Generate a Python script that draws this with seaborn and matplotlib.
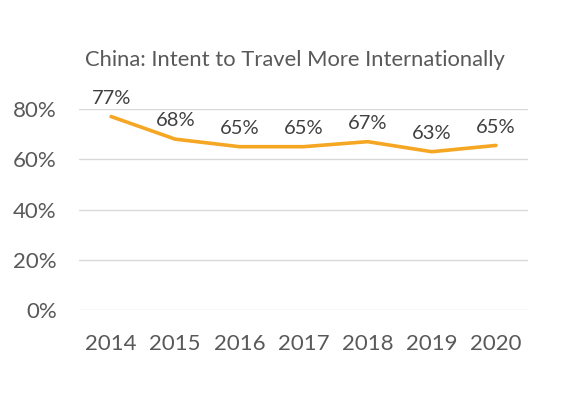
import numpy as np
import pandas as pd
import matplotlib
matplotlib.use("Agg")
import matplotlib.pyplot as plt
import seaborn as sns

years = ["2014", "2015", "2016", "2017", "2018", "2019", "2020"]
intent = [77, 68, 65, 65, 67, 63, 65.5]
labels = ["77%", "68%", "65%", "65%", "67%", "63%", "65%"]

df = pd.DataFrame({"Year": years, "Intent": intent})

sns.set_theme(style="white")
plt.rcParams["font.family"] = ["Lato", "DejaVu Sans"]

fig = plt.figure(figsize=(5.73, 3.96), dpi=100)
ax = fig.add_axes([79 / 573, 1 - 310 / 396, 449 / 573, 201 / 396])

x = np.arange(len(years))
sns.lineplot(x=x, y=df["Intent"], ax=ax, color="#F5A623", linewidth=2.6)

for xi, yi, lab in zip(x, df["Intent"], labels):
    ax.annotate(lab, (xi, yi), xytext=(0, 7), textcoords="offset points",
                ha="center", va="bottom", fontsize=14.5, color="#404040")

ax.set_xlim(-0.5, len(years) - 0.5)
ax.set_ylim(0, 80)
ax.set_yticks([0, 20, 40, 60, 80])
ax.set_yticklabels(["0%", "20%", "40%", "60%", "80%"])
ax.set_xticks(x)
ax.set_xticklabels(years)
ax.tick_params(axis="both", labelsize=16, colors="#595959", length=0)
ax.tick_params(axis="x", pad=17)
ax.tick_params(axis="y", pad=16)
ax.yaxis.grid(True, color="#D9D9D9", linewidth=1)
ax.set_axisbelow(True)
for s in ax.spines.values():
    s.set_visible(False)
ax.set_xlabel("")
ax.set_ylabel("")

fig.text(295 / 573, 1 - 60 / 396, "China: Intent to Travel More Internationally",
         ha="center", va="center", fontsize=15.8, color="#595959")

fig.savefig("out.png", dpi=100)
